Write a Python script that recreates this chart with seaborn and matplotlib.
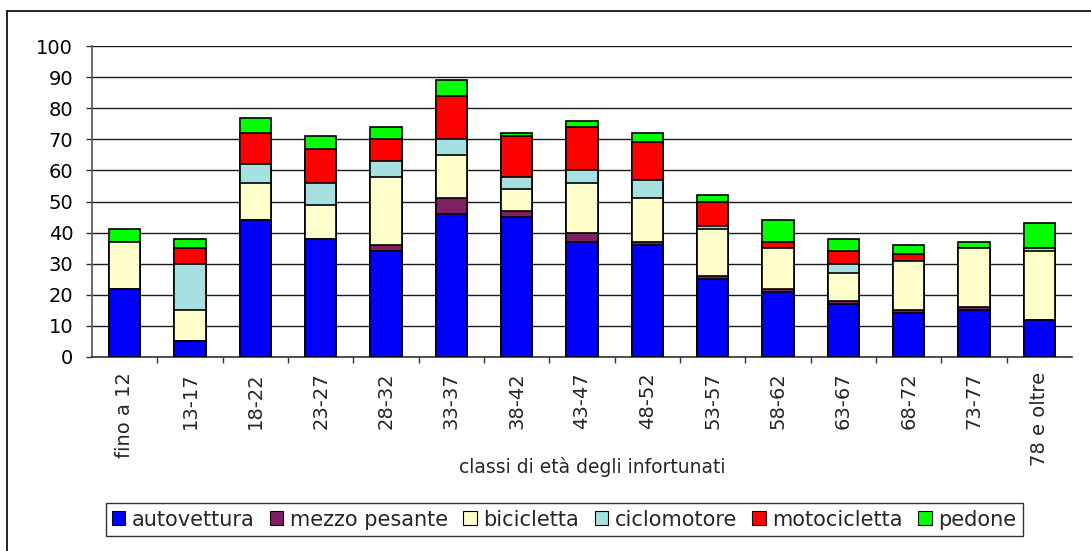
import numpy as np
import pandas as pd
import matplotlib
matplotlib.use("Agg")
import matplotlib.pyplot as plt
from matplotlib.patches import Patch, Rectangle
import seaborn as sns

# Age classes and number of injured per vehicle type
categories = ["fino a 12", "13-17", "18-22", "23-27", "28-32", "33-37", "38-42",
              "43-47", "48-52", "53-57", "58-62", "63-67", "68-72", "73-77", "78 e oltre"]
autovettura = [22, 5, 44, 38, 34, 46, 45, 37, 36, 25, 21, 17, 14, 15, 12]
mezzo_pesante = [0, 0, 0, 0, 2, 5, 2, 3, 1, 1, 1, 1, 1, 1, 0]
bicicletta = [15, 10, 12, 11, 22, 14, 7, 16, 14, 15, 13, 9, 16, 19, 22]
ciclomotore = [0, 15, 6, 7, 5, 5, 4, 4, 6, 1, 0, 3, 0, 0, 1]
motocicletta = [0, 5, 10, 11, 7, 14, 13, 14, 12, 8, 2, 4, 2, 0, 0]
pedone = [4, 3, 5, 4, 4, 5, 1, 2, 3, 2, 7, 4, 3, 2, 8]

series_names = ["autovettura", "mezzo pesante", "bicicletta", "ciclomotore",
                "motocicletta", "pedone"]
series_values = [autovettura, mezzo_pesante, bicicletta, ciclomotore,
                 motocicletta, pedone]
colors = ["#0000FF", "#802060", "#FFFFCC", "#A6E0E0", "#FF0000", "#00FF00"]
y_ticks = list(range(0, 101, 10))

sns.set_style("white")
plt.rcParams["font.family"] = ["DejaVu Sans"]

fig = plt.figure(figsize=(10.91, 5.51), dpi=100)
W, H = 1091, 551
ax = fig.add_axes([92 / W, 1 - 357 / H, (1072 - 92) / W, (357 - 46) / H])

# Stacked bars: cumulative totals drawn from the top layer down
df = pd.DataFrame(dict(zip(series_names, series_values)), index=categories)
cum = df.cumsum(axis=1)
for name, col in reversed(list(zip(series_names, colors))):
    sns.barplot(x=categories, y=cum[name].values, color=col, saturation=1,
                width=0.48, edgecolor="black", linewidth=1.2, errorbar=None,
                ax=ax, zorder=3)

ax.set_xlim(-0.5, len(categories) - 0.5)
ax.set_ylim(0, 100)
ax.set_yticks(y_ticks)
ax.yaxis.grid(True, color="#1a1a1a", linewidth=1.0, zorder=0)
ax.xaxis.grid(False)
ax.set_axisbelow(True)

for s in ["top", "right"]:
    ax.spines[s].set_visible(False)
ax.spines["left"].set_color("#555555")
ax.spines["left"].set_linewidth(1.2)
ax.spines["bottom"].set_color("#333333")
ax.spines["bottom"].set_linewidth(1.2)

ax.tick_params(axis="y", which="major", direction="out", length=4.5, width=1,
               color="#333333", pad=9, labelsize=14, labelcolor="black", left=True)
# category labels centred, tick marks between categories
ax.set_xticks(range(len(categories)))
ax.set_xticklabels(categories, rotation=90, fontsize=14, va="top", ha="center")
ax.set_xticks(np.arange(0.5, len(categories) - 0.5, 1.0), minor=True)
ax.tick_params(axis="x", which="major", length=0, pad=11)
ax.tick_params(axis="x", which="minor", direction="out", length=4.5, width=1,
               color="#333333", bottom=True)
ax.set_xlabel("")
ax.set_ylabel("")

fig.text(592 / W, 1 - 467 / H, "classi di età degli infortunati", fontsize=13.5,
         ha="center", va="center")

handles = [Patch(facecolor=c, edgecolor="black", linewidth=0.8, label=n)
           for n, c in zip(series_names, colors)]
leg = fig.legend(handles=handles, loc="center", bbox_to_anchor=(564 / W, 1 - 519.5 / H),
                 ncol=6, frameon=True, fontsize=15, handlelength=0.65,
                 handleheight=0.65, handletextpad=0.3, columnspacing=0.75,
                 borderpad=0.3, fancybox=False, borderaxespad=0)
leg.get_frame().set_edgecolor("black")
leg.get_frame().set_linewidth(1.0)

# outer chart frame
fig.patches.append(Rectangle((7 / W, -0.1), 1.2, (H - 11) / H + 0.1,
                             transform=fig.transFigure, fill=False,
                             edgecolor="black", linewidth=1.2))

fig.savefig("out.png", dpi=100)
